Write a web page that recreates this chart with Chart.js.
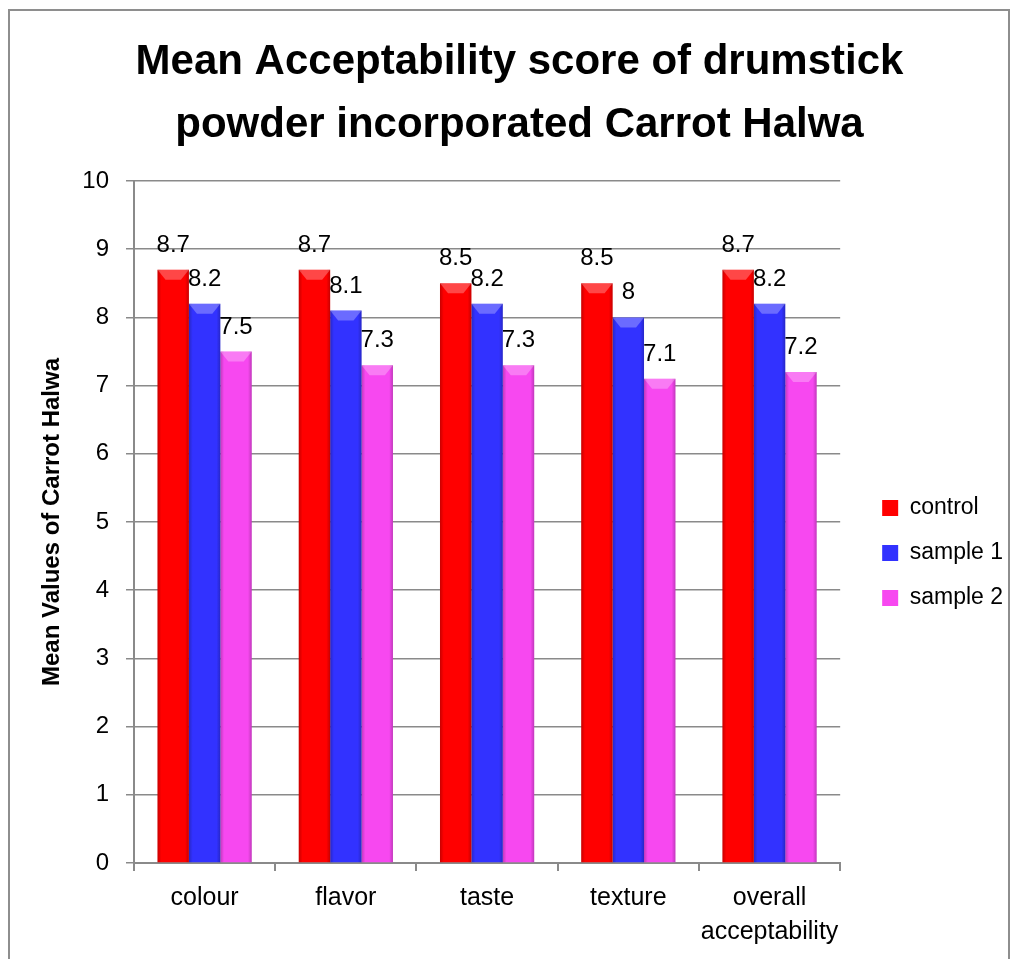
<!DOCTYPE html>
<html>
<head>
<meta charset="utf-8">
<title>Mean Acceptability score</title>
<script src="https://cdn.jsdelivr.net/npm/chart.js@4.4.1/dist/chart.umd.min.js"></script>
<style>
    html, body { margin: 0; padding: 0; background: #fff; overflow: hidden; }
    #frame {
        position: absolute; left: 8px; top: 9px; width: 1002px; height: 1000px;
        border: 2px solid #8e8e8e; border-bottom: none; box-sizing: border-box;
    }
    #wrap { position: absolute; left: 0; top: 0; width: 1013px; height: 959px; }
</style>
</head>
<body>
<div id="frame"></div>
<div id="wrap"><canvas id="chart" width="1013" height="959"></canvas></div>
<script>
// Chart data
const categories = ['colour', 'flavor', 'taste', 'texture', ['overall', 'acceptability']];
const control = [8.7, 8.7, 8.5, 8.5, 8.7];
const sample1 = [8.2, 8.1, 8.2, 8, 8.2];
const sample2 = [7.5, 7.3, 7.3, 7.1, 7.2];
const seriesNames = ['control', 'sample 1', 'sample 2'];
const yMin = 0, yMax = 10, yStep = 1;

const narrow = '"Liberation Sans Narrow", "Liberation Sans", Arial, sans-serif';
const regular = '"Liberation Sans", Arial, sans-serif';
const axisGray = '#8a8a8a';

Chart.defaults.font.family = regular;
Chart.defaults.color = '#000';

// 3D-ish shading on each bar: darker sides and a lighter bevel on top
const bevelPlugin = {
    id: 'bevel',
    afterDatasetsDraw(chart) {
        const ctx = chart.ctx;
        ctx.save();
        chart.data.datasets.forEach((ds, i) => {
            chart.getDatasetMeta(i).data.forEach(bar => {
                const { x, y, base, width } = bar.getProps(['x', 'y', 'base', 'width'], true);
                const l = x - width / 2, r = x + width / 2;
                const g = ctx.createLinearGradient(l, 0, r, 0);
                g.addColorStop(0, 'rgba(0,0,0,0.22)');
                g.addColorStop(0.12, 'rgba(0,0,0,0)');
                g.addColorStop(0.88, 'rgba(0,0,0,0)');
                g.addColorStop(1, 'rgba(0,0,0,0.22)');
                ctx.fillStyle = g;
                ctx.fillRect(l, y, width, base - y);
                ctx.beginPath();
                ctx.moveTo(l, y);
                ctx.lineTo(r, y);
                ctx.lineTo(r - 8, y + 10);
                ctx.lineTo(l + 8, y + 10);
                ctx.closePath();
                ctx.fillStyle = 'rgba(255,255,255,0.28)';
                ctx.fill();
            });
        });
        ctx.restore();
    }
};

// Value labels above the bars
const valueLabels = {
    id: 'valueLabels',
    afterDatasetsDraw(chart) {
        const ctx = chart.ctx;
        ctx.save();
        ctx.font = '24px ' + regular;
        ctx.fillStyle = '#000';
        ctx.textAlign = 'center';
        ctx.textBaseline = 'alphabetic';
        chart.data.datasets.forEach((ds, i) => {
            chart.getDatasetMeta(i).data.forEach((bar, j) => {
                ctx.fillText(String(ds.data[j]), bar.x, bar.y - 18);
            });
        });
        ctx.restore();
    }
};

new Chart(document.getElementById('chart'), {
    type: 'bar',
    data: {
        labels: categories,
        datasets: [
            { label: seriesNames[0], data: control, backgroundColor: '#ff0000', borderColor: '#d00000', borderWidth: 0 },
            { label: seriesNames[1], data: sample1, backgroundColor: '#3232ff', borderColor: '#2020c0', borderWidth: 0 },
            { label: seriesNames[2], data: sample2, backgroundColor: '#f748f0', borderColor: '#c030c0', borderWidth: 0 }
        ]
    },
    options: {
        responsive: false,
        animation: false,
        barPercentage: 1,
        categoryPercentage: 0.667,
        layout: { padding: { left: 26, right: 0, top: 0, bottom: 0 } },
        scales: {
            x: {
                grid: { display: true, drawOnChartArea: false, drawTicks: true, tickLength: 8, color: axisGray, lineWidth: 2 },
                border: { color: axisGray, width: 2 },
                ticks: { color: '#000', font: { size: 25, lineHeight: 1.36 }, padding: 10, maxRotation: 0, autoSkip: false },
                afterFit: s => { s.height = 96; }
            },
            y: {
                min: yMin,
                max: yMax,
                ticks: { stepSize: yStep, padding: 17, color: '#000', font: { size: 24 } },
                grid: { color: axisGray, lineWidth: 1.5, tickLength: 8 },
                border: { color: axisGray, width: 2 },
                title: {
                    display: true,
                    text: 'Mean Values of Carrot Halwa',
                    color: '#000',
                    font: { family: narrow, size: 24, weight: 'bold' },
                    padding: { top: 12, bottom: 0 }
                },
                afterFit: s => { s.width = 108; }
            },
            gap: {
                position: 'right',
                display: true,
                grid: { display: false },
                ticks: { display: false },
                border: { display: false },
                afterFit: s => { s.width = 20; }
            }
        },
        plugins: {
            title: {
                display: true,
                text: ['Mean Acceptability score of drumstick', 'powder incorporated Carrot Halwa'],
                color: '#000',
                font: { family: narrow, size: 42, weight: 'bold', lineHeight: 1.5 },
                padding: { top: 30.5, bottom: 24.5 }
            },
            legend: {
                position: 'right',
                fullSize: false,
                align: 'center',
                title: { display: true, text: '', padding: { top: 50, bottom: 0 }, font: { size: 10, lineHeight: 1.2 } },
                labels: { boxWidth: 16, boxHeight: 16, padding: 22, color: '#000', font: { size: 23 } }
            },
            tooltip: { enabled: false }
        }
    },
    plugins: [bevelPlugin, valueLabels]
});
</script>
</body>
</html>
